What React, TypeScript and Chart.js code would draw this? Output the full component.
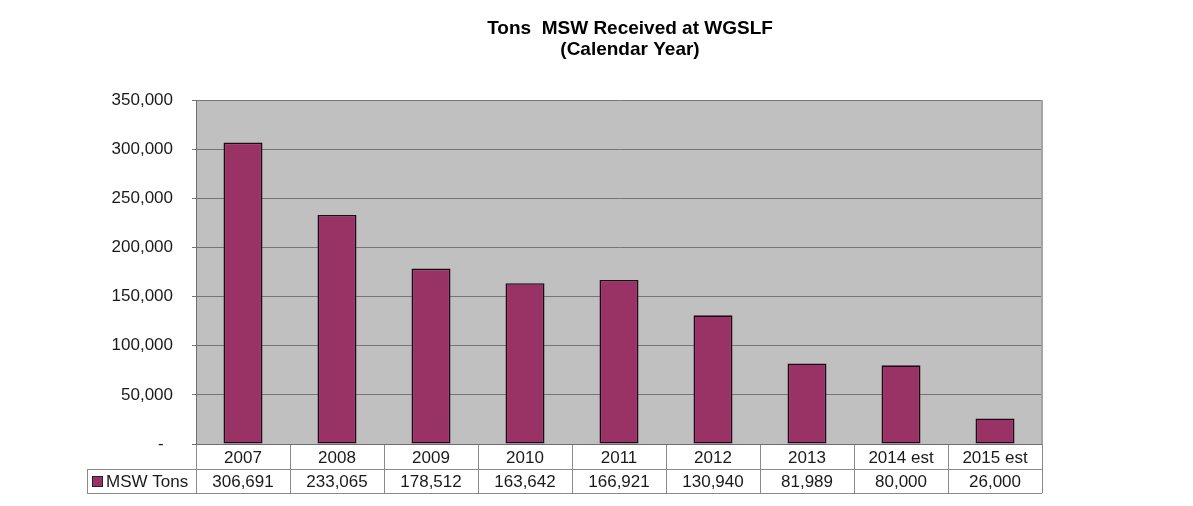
import React, { useEffect, useRef } from "react";
import { Chart, registerables } from "chart.js";

Chart.register(...registerables);

const categories = ["2007", "2008", "2009", "2010", "2011", "2012", "2013", "2014 est", "2015 est"];
const mswTons = [306691, 233065, 178512, 163642, 166921, 130940, 81989, 80000, 26000];
const seriesName = "MSW Tons";
const titleLines = ["Tons  MSW Received at WGSLF", "(Calendar Year)"];
const yTicks = [0, 50000, 100000, 150000, 200000, 250000, 300000, 350000];

const FONT = "'Liberation Sans', Arial, sans-serif";
const BAR = "#993366";
const GRID = "#767676";
const TABLE = "#8a8a8a";
const TEXT = "#1a1a1a";

const fmt = (v: number) => (v === 0 ? "-" : v.toLocaleString("en-US"));

const plotBg = {
  id: "plotBg",
  beforeDraw(chart: any) {
    const { ctx, chartArea } = chart;
    ctx.save();
    ctx.fillStyle = "#c0c0c0";
    ctx.fillRect(chartArea.left, chartArea.top, chartArea.right - chartArea.left, chartArea.bottom - chartArea.top);
    ctx.restore();
  },
  afterDatasetsDraw(chart: any) {
    const { ctx, chartArea } = chart;
    ctx.save();
    ctx.strokeStyle = "#a4a4a4";
    ctx.lineWidth = 2;
    ctx.beginPath();
    ctx.moveTo(chartArea.right, chartArea.top);
    ctx.lineTo(chartArea.right, chartArea.bottom);
    ctx.stroke();
    ctx.restore();
  },
};

const titlePlugin = {
  id: "titleText",
  afterDraw(chart: any) {
    const { ctx } = chart;
    ctx.save();
    ctx.fillStyle = "#000";
    ctx.font = "bold 19px " + FONT;
    ctx.textAlign = "center";
    ctx.textBaseline = "alphabetic";
    ctx.fillText(titleLines[0], 630, 34);
    ctx.fillText(titleLines[1], 630, 55);
    ctx.restore();
  },
};

const dataTable = {
  id: "dataTable",
  afterDraw(chart: any) {
    const { ctx, chartArea } = chart;
    const x = chart.scales.x;
    const n = categories.length;
    const w = (chartArea.right - chartArea.left) / n;
    const top = chartArea.bottom;
    const r1 = top + 25;
    const r2 = r1 + 24;
    const legLeft = 87;
    ctx.save();
    ctx.strokeStyle = TABLE;
    ctx.lineWidth = 1;
    ctx.beginPath();
    ctx.moveTo(legLeft, r1 + 0.5);
    ctx.lineTo(chartArea.right, r1 + 0.5);
    ctx.moveTo(legLeft, r2 + 0.5);
    ctx.lineTo(chartArea.right, r2 + 0.5);
    ctx.moveTo(legLeft + 0.5, r1);
    ctx.lineTo(legLeft + 0.5, r2);
    for (let i = 0; i <= n; i++) {
      const xx = Math.round(chartArea.left + i * w) + 0.5;
      ctx.moveTo(xx, top);
      ctx.lineTo(xx, r2);
    }
    ctx.stroke();
    ctx.strokeStyle = "#6e6e6e";
    ctx.beginPath();
    ctx.moveTo(chartArea.left - 4, top + 0.5);
    ctx.lineTo(chartArea.right, top + 0.5);
    ctx.stroke();
    ctx.fillStyle = TEXT;
    ctx.font = "17px " + FONT;
    ctx.textAlign = "center";
    ctx.textBaseline = "middle";
    for (let i = 0; i < n; i++) {
      const cx = x.getPixelForValue(i);
      ctx.fillText(categories[i], cx, 458);
      ctx.fillText(fmt(mswTons[i]), cx, 482);
    }
    ctx.fillStyle = BAR;
    ctx.fillRect(92, 476, 10, 10);
    ctx.strokeStyle = "#222";
    ctx.strokeRect(92.5, 476.5, 10, 10);
    ctx.fillStyle = TEXT;
    ctx.textAlign = "left";
    ctx.fillText(seriesName, 106, 482);
    ctx.restore();
  },
};

export default function App() {
  const ref = useRef<HTMLCanvasElement>(null);
  useEffect(() => {
    if (!ref.current) return;
    const chart = new Chart(ref.current, {
      type: "bar",
      data: {
        labels: categories,
        datasets: [
          {
            label: seriesName,
            data: mswTons,
            backgroundColor: BAR,
            borderColor: "#1e0a16",
            borderWidth: 1.6,
            borderSkipped: false,
            barPercentage: 0.415,
            categoryPercentage: 1,
          },
        ],
      },
      options: {
        animation: false,
        responsive: false,
        maintainAspectRatio: false,
        layout: { padding: { left: 0, right: 151, top: 100, bottom: 62 } },
        plugins: {
          legend: { display: false },
          tooltip: { enabled: false },
          title: { display: false },
        },
        scales: {
          x: { display: false, offset: true },
          y: {
            min: 0,
            max: 350000,
            afterFit(scale: any) {
              scale.width = 196;
            },
            afterBuildTicks(scale: any) {
              scale.ticks = yTicks.map((v) => ({ value: v }));
            },
            ticks: {
              color: TEXT,
              font: { family: FONT, size: 17 },
              padding: 19,
              callback: (v: any) => (Number(v) === 0 ? "-  " : fmt(Number(v))),
            },
            grid: { color: GRID, lineWidth: 1, tickLength: 4, drawTicks: true },
            border: { display: true, color: "#6e6e6e" },
          },
        },
      },
      plugins: [plotBg, dataTable, titlePlugin],
    });
    return () => chart.destroy();
  }, []);
  return (
    <div style={{ position: "fixed", left: 0, top: 0, width: 1193, height: 506, background: "#fff" }}>
      <canvas ref={ref} width={1193} height={506} style={{ display: "block" }} />
    </div>
  );
}
